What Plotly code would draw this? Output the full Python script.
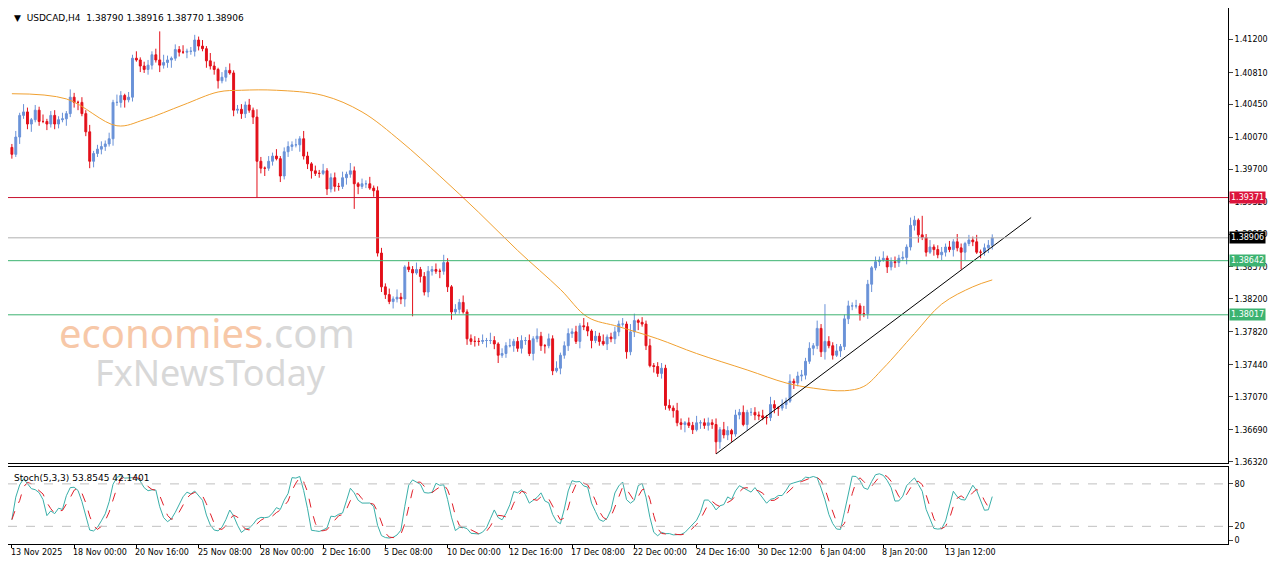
import pandas as pd
import plotly.graph_objects as go
from plotly.subplots import make_subplots

#%% data - H4 closes, four stretches
closes_nov = [1.3987,1.4007,1.4032,1.4036,1.4022,1.4027,1.4038,1.4025,1.4025,1.4022,1.4032,1.4022,1.4027,1.4028,1.4034,
              1.4053,1.4047,1.4047,1.4034,1.4013,1.3979,1.3988,1.3993,1.3996,1.3999,1.4005,1.4047,1.4047,1.4055,1.4050,
              1.4053,1.4098,1.4096,1.4089,1.4085,1.4090,1.4102,1.4096,1.4090,1.4093,1.4096,1.4098,1.4108,1.4105,1.4105,
              1.4106,1.4106,1.4119,1.4112,1.4109,1.4095,1.4089,1.4085,1.4072,1.4076,1.4084,1.4081,1.4038,1.4039,1.4034,
              1.4044,1.4038,1.4030]
closes_dec1 = [1.3979,1.3971,1.3971,1.3979,1.3985,1.3982,1.3962,1.3990,1.3996,1.3998,1.3998,1.4005,1.3985,1.3976,1.3968,
               1.3965,1.3965,1.3968,1.3947,1.3960,1.3950,1.3950,1.3960,1.3964,1.3968,1.3953,1.3950,1.3953,1.3953,1.3948,
               1.3945,1.3873,1.3834,1.3825,1.3817,1.3820,1.3822,1.3820,1.3857,1.3854,1.3850,1.3854,1.3846,1.3828,1.3852,
               1.3854,1.3852,1.3852,1.3862,1.3834,1.3805,1.3808,1.3816,1.3805,1.3774,1.3771,1.3771,1.3771,1.3772]
closes_dec2 = [1.3772,1.3772,1.3768,1.3755,1.3757,1.3766,1.3766,1.3771,1.3763,1.3772,1.3772,1.3757,1.3774,1.3777,1.3766,
               1.3766,1.3774,1.3737,1.3740,1.3755,1.3766,1.3780,1.3782,1.3771,1.3789,1.3788,1.3783,1.3772,1.3777,1.3771,
               1.3768,1.3776,1.3774,1.3782,1.3791,1.3791,1.3759,1.3782,1.3795,1.3793,1.3791,1.3766,1.3743,1.3742,1.3734,
               1.3740,1.3697,1.3694,1.3691,1.3677,1.3675,1.3677,1.3674,1.3669,1.3677,1.3677,1.3674,1.3677,1.3675,1.3655,
               1.3669,1.3663,1.3668,1.3664,1.3686,1.3689,1.3675,1.3689]
closes_jan = [1.3689,1.3686,1.3685,1.3683,1.3683,1.3698,1.3694,1.3694,1.3698,1.3702,1.3725,1.3723,1.3731,1.3732,1.3748,
              1.3763,1.3766,1.3786,1.3759,1.3771,1.3766,1.3755,1.3760,1.3765,1.3797,1.3812,1.3812,1.3812,1.3803,1.3803,
              1.3837,1.3856,1.3863,1.3865,1.3867,1.3857,1.3863,1.3862,1.3867,1.3868,1.3880,1.3905,1.3911,1.3894,1.3891,
              1.3874,1.3880,1.3877,1.3871,1.3874,1.3880,1.3877,1.3886,1.3879,1.3874,1.3884,1.3888,1.3886,1.3874,1.3874,
              1.3879,1.3882,1.38906]

first_open = 1.3995
# typical wick sizes (pips) and the long wicks seen on the chart
upper_pips = [4, 7, 3, 9, 5, 2, 6, 4, 8, 3, 5, 6]
lower_pips = [5, 3, 8, 4, 6, 9, 3, 5, 2, 7, 4, 6]
spike_high = {38: 1.4129, 160: 1.3803, 209: 1.3814, 234: 1.3916, 253: 1.38916}
spike_low = {20: 1.3971, 63: 1.3937, 88: 1.3924, 103: 1.3800, 181: 1.3641, 244: 1.3854, 253: 1.38770}

# orange moving average (bar index, value)
ma_idx = [0, 14, 27, 34, 44, 53, 59, 68, 80, 90, 100, 110, 120, 130, 141, 148, 156, 166, 176, 189, 199, 206, 214, 219,
          224, 232, 239, 247, 252]
ma_val = [1.4057, 1.4051, 1.4020, 1.4027, 1.4044, 1.4059, 1.4061, 1.4061, 1.4055, 1.4036, 1.4002, 1.3962, 1.3920,
          1.3876, 1.3831, 1.3799, 1.3788, 1.3774, 1.3757, 1.3738, 1.3723, 1.3717, 1.3714, 1.3719, 1.3740, 1.3780,
          1.3814, 1.3834, 1.3842]

levels = [1.39371, 1.38906, 1.38642, 1.38017]
level_colors = ['#C8102E', '#B0B0B0', '#3CB371', '#3CB371']
label_colors = ['#DC143C', '#000000', '#3CB371', '#3CB371']

price_ticks = [1.41200, 1.40810, 1.40450, 1.40070, 1.39700, 1.39320, 1.38950, 1.38570, 1.38200, 1.37820,
               1.37440, 1.37070, 1.36690, 1.36320]
date_labels = ['13 Nov 2025', '18 Nov 00:00', '20 Nov 16:00', '25 Nov 08:00', '28 Nov 00:00', '2 Dec 16:00',
               '5 Dec 08:00', '10 Dec 00:00', '12 Dec 16:00', '17 Dec 08:00', '22 Dec 00:00', '24 Dec 16:00',
               '30 Dec 12:00', '6 Jan 04:00', '8 Jan 20:00', '13 Jan 12:00']
trend_start = (181, 1.3641)
trend_end = (262, 1.3914)

#%% build OHLC
df = pd.DataFrame({'close': closes_nov + closes_dec1 + closes_dec2 + closes_jan})
df['open'] = df['close'].shift(1).fillna(first_open)
n = len(df)
up = [upper_pips[i % len(upper_pips)] * 0.0001 for i in range(n)]
dn = [lower_pips[i % len(lower_pips)] * 0.0001 for i in range(n)]
df['high'] = df[['open', 'close']].max(axis=1) + up
df['low'] = df[['open', 'close']].min(axis=1) - dn
for k, v in spike_high.items():
    if k < n:
        df.loc[k, 'high'] = max(v, df.loc[k, ['open', 'close']].max())
for k, v in spike_low.items():
    if k < n:
        df.loc[k, 'low'] = min(v, df.loc[k, ['open', 'close']].min())
df['x'] = range(n)

# stochastic 5,3,3
ll = df['low'].rolling(5, min_periods=1).min()
hh = df['high'].rolling(5, min_periods=1).max()
k = (df['close'] - ll).rolling(3, min_periods=1).sum() / (hh - ll).rolling(3, min_periods=1).sum() * 100
d = k.rolling(3, min_periods=1).mean()

#%% figure
fig = make_subplots(rows=2, cols=1, row_heights=[0.855, 0.145], vertical_spacing=0.008)

fig.add_trace(go.Candlestick(x=df['x'], open=df['open'], high=df['high'], low=df['low'], close=df['close'],
                             increasing=dict(line=dict(color='#6A92D8', width=1), fillcolor='#6A92D8'),
                             decreasing=dict(line=dict(color='#E3101A', width=1), fillcolor='#E3101A'),
                             whiskerwidth=0, showlegend=False, hoverinfo='skip'), row=1, col=1)
fig.add_trace(go.Scatter(x=ma_idx, y=ma_val, mode='lines', line=dict(color='#F0A030', width=1, shape='spline'),
                         showlegend=False, hoverinfo='skip'), row=1, col=1)
fig.add_trace(go.Scatter(x=[trend_start[0], trend_end[0]], y=[trend_start[1], trend_end[1]], mode='lines',
                         line=dict(color='black', width=1), showlegend=False, hoverinfo='skip'), row=1, col=1)

for lv, c in zip(levels, level_colors):
    fig.add_hline(y=lv, line=dict(color=c, width=1), row=1, col=1)

fig.add_trace(go.Scatter(x=df['x'], y=k, mode='lines', line=dict(color='#3AAFA9', width=1),
                         showlegend=False, hoverinfo='skip'), row=2, col=1)
fig.add_trace(go.Scatter(x=df['x'], y=d, mode='lines', line=dict(color='#E0202A', width=1, dash='dash'),
                         showlegend=False, hoverinfo='skip'), row=2, col=1)
for lv in [20, 80]:
    fig.add_hline(y=lv, line=dict(color='#C0C0C0', width=1, dash='dash'), row=2, col=1)

xr = [-1, 312.6]
fig.update_xaxes(range=xr, showgrid=False, zeroline=False, showline=True, linecolor='black', mirror=True,
                 rangeslider_visible=False)
fig.update_xaxes(showticklabels=False, row=1, col=1)
fig.update_xaxes(tickvals=[i * 16 for i in range(len(date_labels))], ticktext=[''] * len(date_labels),
                 ticks='outside', ticklen=3, tickcolor='black', row=2, col=1)
fig.update_yaxes(side='right', range=[1.3631, 1.4156], tickvals=price_ticks,
                 ticktext=['%.5f' % t for t in price_ticks], ticks='outside', ticklen=4, showgrid=False,
                 zeroline=False, showline=True, linecolor='black', mirror=True,
                 tickfont=dict(family='DejaVu Sans', size=8, color='black'), row=1, col=1)
fig.update_yaxes(side='right', range=[-5, 104], tickvals=[0, 20, 80], ticks='outside', ticklen=4, showgrid=False,
                 zeroline=False, showline=True, linecolor='black', mirror=True,
                 tickfont=dict(family='DejaVu Sans', size=8, color='black'), row=2, col=1)

ann = []
for i, lbl in enumerate(date_labels):
    ann.append(dict(text=lbl, x=i * 16, xref='x2', y=0, yref='paper', xanchor='left', yanchor='top',
                    showarrow=False, font=dict(family='DejaVu Sans', size=8, color='black'), xshift=-3, yshift=-2))
for lv, c in zip(levels, label_colors):
    ann.append(dict(text='%.5f' % lv, x=1, xref='paper', y=lv, yref='y', xanchor='left', yanchor='middle',
                    showarrow=False, bgcolor=c, font=dict(family='DejaVu Sans', size=8, color='white'),
                    borderpad=1, xshift=1))
ann.append(dict(text='▼  USDCAD,H4  1.38790 1.38916 1.38770 1.38906', x=0.003, xref='paper', y=0.995, yref='paper',
                xanchor='left', yanchor='top', showarrow=False, font=dict(family='DejaVu Sans', size=9, color='black')))
ann.append(dict(text='Stoch(5,3,3) 53.8545 42.1401', x=0.003, xref='paper', y=0.137, yref='paper',
                xanchor='left', yanchor='top', showarrow=False, font=dict(family='DejaVu Sans', size=9, color='black')))
ann.append(dict(text='economies<span style="color:#D8D8D8">.com</span>', x=0.04, xref='paper', y=0.395, yref='paper',
                xanchor='left', yanchor='middle', showarrow=False,
                font=dict(family='Noto Sans', size=40, color='#F7C8A8')))
ann.append(dict(text='FxNewsToday', x=0.07, xref='paper', y=0.32, yref='paper',
                xanchor='left', yanchor='middle', showarrow=False,
                font=dict(family='Noto Sans', size=36, color='#D8D8D8')))

fig.update_layout(width=1265, height=552, margin=dict(l=0, r=45, t=0, b=16), plot_bgcolor='white',
                  paper_bgcolor='white', annotations=ann, autosize=False)
fig.write_html("out.html")
